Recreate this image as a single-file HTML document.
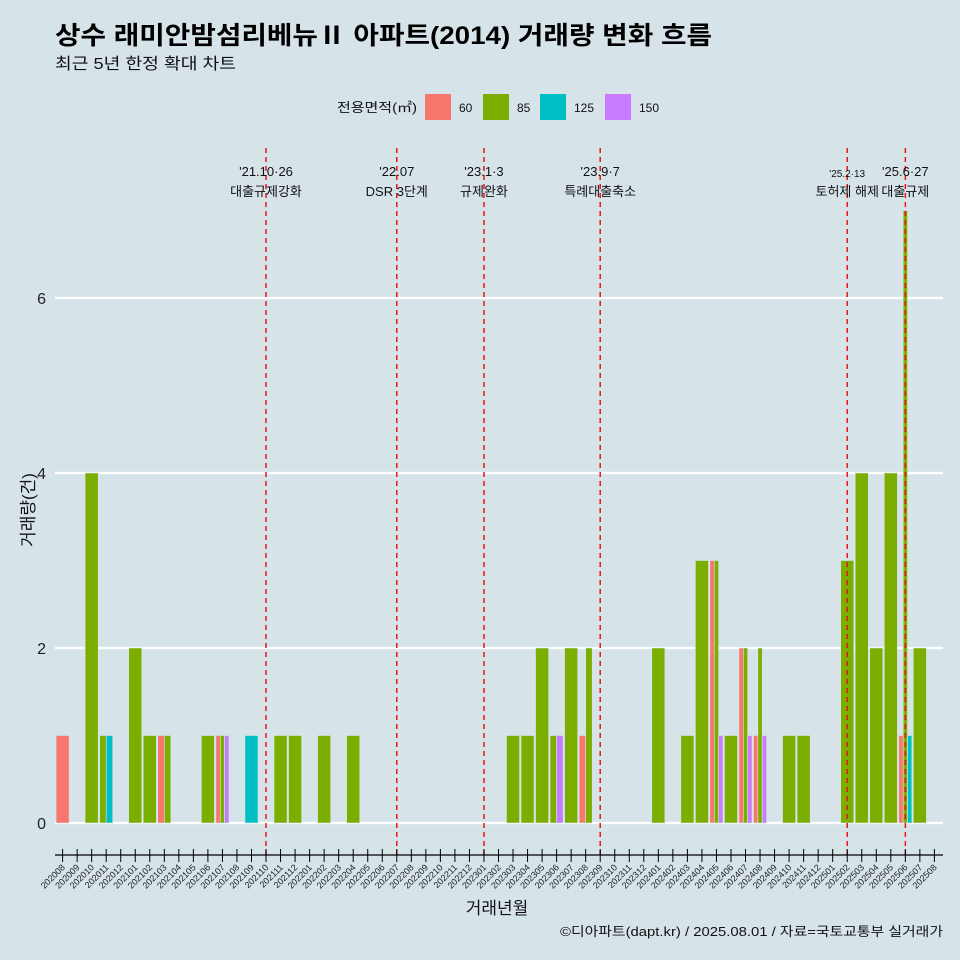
<!DOCTYPE html>
<html><head><meta charset="utf-8">
<style>
html,body{margin:0;padding:0;background:#d6e4ea;}
svg{display:block;font-family:"Liberation Sans","Noto Sans CJK KR",sans-serif;}
</style></head>
<body>
<svg id="chart" width="960" height="960" viewBox="0 0 960 960" xmlns="http://www.w3.org/2000/svg">
<rect x="0" y="0" width="960" height="960" fill="#d6e4ea"/>
<text x="55" y="44" font-size="25" font-weight="bold" fill="#000" textLength="657" lengthAdjust="spacingAndGlyphs">상수 래미안밤섬리베뉴Ⅱ 아파트(2014) 거래량 변화 흐름</text>
<text x="55" y="69" font-size="16" fill="#111" textLength="181" lengthAdjust="spacingAndGlyphs">최근 5년 한정 확대 차트</text>
<g id="legend">
<text x="337" y="112" font-size="13" fill="#111" textLength="80" lengthAdjust="spacingAndGlyphs">전용면적(㎡)</text>
</g>
<g id="grid"></g>
<g id="bars"></g>
<g id="events"></g>
<g id="xaxis"></g>
<text x="497" y="914" font-size="17" text-anchor="middle" fill="#111">거래년월</text>
<text transform="translate(34,510) rotate(-90)" font-size="17" text-anchor="middle" fill="#111">거래량(건)</text>
<text x="560" y="936" font-size="13" fill="#111" textLength="383" lengthAdjust="spacingAndGlyphs">©디아파트(dapt.kr) / 2025.08.01 / 자료=국토교통부 실거래가</text>
</svg>
<script>
const months = [];
for (let y = 2020; y <= 2025; y++) for (let m = 1; m <= 12; m++) {
  const k = y * 100 + m;
  if (k >= 202008 && k <= 202508) months.push(String(k));
}
const areas = ["60", "85", "125", "150"];
const colors = ["#f8766d", "#7cae00", "#00bfc4", "#c77cff"];
const barMonths = ["202008","202010","202011","202011","202101","202102","202103","202103","202106","202107","202107","202107","202109","202111","202112","202202","202204","202303","202304","202305","202306","202306","202307","202308","202308","202401","202403","202404","202405","202405","202405","202406","202407","202407","202407","202408","202408","202408","202410","202411","202502","202503","202504","202505","202506","202506","202506","202507"];
const barAreas  = ["60","85","85","125","85","85","60","85","85","60","85","150","125","85","85","85","85","85","85","85","85","150","85","60","85","85","85","85","60","85","150","85","60","85","150","60","85","150","85","85","85","85","85","85","60","85","125","85"];
const barCounts = [1,4,1,1,2,1,1,1,1,1,1,1,1,1,1,1,1,1,1,2,1,1,2,1,2,2,1,3,3,3,1,1,2,2,1,1,2,1,1,1,3,4,2,4,1,7,1,2];
const yTicks = [0, 2, 4, 6];
const eventMonths = ["202110","202207","202301","202309","202502","202506"];
const eventDates = ["'21.10·26","'22.07","'23.1·3","'23.9·7","'25.2·13","'25.6·27"];
const eventNames = ["대출규제강화","DSR 3단계","규제완화","특례대출축소","토허제 해제","대출규제"];

const NS = "http://www.w3.org/2000/svg";
function mk(tag, attrs, parent) {
  const e = document.createElementNS(NS, tag);
  for (const k in attrs) e.setAttribute(k, attrs[k]);
  parent.appendChild(e);
  return e;
}
const step = 14.53;
function xPos(m) { return 62.6 + months.indexOf(m) * step; }
function yPos(v) { return 823 - v * 87.5; }

const lg = document.getElementById('legend');
const lgX = [425, 483, 540, 605];
areas.forEach((a, i) => {
  const r = mk('rect', {x: lgX[i], y: 94, width: 26, height: 26, fill: colors[i]}, lg);
  
  
  const t = mk('text', {x: lgX[i] + 34, y: 112, 'font-size': 12, fill: '#111'}, lg);
  t.textContent = a;
  
  
});

const gg = document.getElementById('grid');
yTicks.forEach(v => {
  const l = mk('line', {x1: 55, x2: 943, y1: yPos(v), y2: yPos(v), stroke: '#fff', 'stroke-width': 2.2}, gg);
  
  
  const t = mk('text', {x: 46, y: yPos(v) + 6, 'font-size': 16, 'text-anchor': 'end', fill: '#222'}, gg);
  t.textContent = v;
  
  
});

const bg = document.getElementById('bars');
const groups = {};
barMonths.forEach((m, i) => { (groups[m] = groups[m] || []).push(i); });
Object.keys(groups).forEach(m => {
  const idx = groups[m].slice().sort((a, b) => areas.indexOf(barAreas[a]) - areas.indexOf(barAreas[b]));
  const total = step * 0.9;
  const w = total / idx.length;
  const x0 = xPos(m) - total / 2;
  idx.forEach((i, j) => {
    const r = mk('rect', {x: x0 + j * w, y: yPos(barCounts[i]), width: w, height: yPos(0) - yPos(barCounts[i]), fill: colors[areas.indexOf(barAreas[i])], stroke: '#d6e4ea', 'stroke-width': 0.6}, bg);
    
    
  });
});

const eg = document.getElementById('events');
eventMonths.forEach((m, i) => {
  const x = xPos(m);
  const l = mk('line', {x1: x, x2: x, y1: 148, y2: 855, stroke: '#e8141c', 'stroke-width': 1.5, 'stroke-dasharray': '5,4'}, eg);
  
  
  const small = (i === 4);
  const t1 = mk('text', {x: x, y: small ? 177 : 176, 'font-size': small ? 10 : 13, 'text-anchor': 'middle', fill: '#111'}, eg);
  t1.textContent = eventDates[i];
  
  
  const t2 = mk('text', {x: x, y: 196, 'font-size': 13, 'text-anchor': 'middle', fill: '#111'}, eg);
  t2.textContent = eventNames[i];
  
  
});

const xg = document.getElementById('xaxis');
const ax = mk('line', {x1: 55, x2: 943, y1: 855, y2: 855, stroke: '#000', 'stroke-width': 1.3}, xg);


months.forEach(m => {
  const x = xPos(m);
  const tk = mk('line', {x1: x, x2: x, y1: 849, y2: 862, stroke: '#000', 'stroke-width': 1}, xg);
  
  
  const t = mk('text', {x: 0, y: 0, 'font-size': 9, 'text-anchor': 'end', fill: '#222', transform: 'translate(' + (x + 3) + ',868) rotate(-45)'}, xg);
  t.textContent = m;
  
  
});
</script>
</body></html>
